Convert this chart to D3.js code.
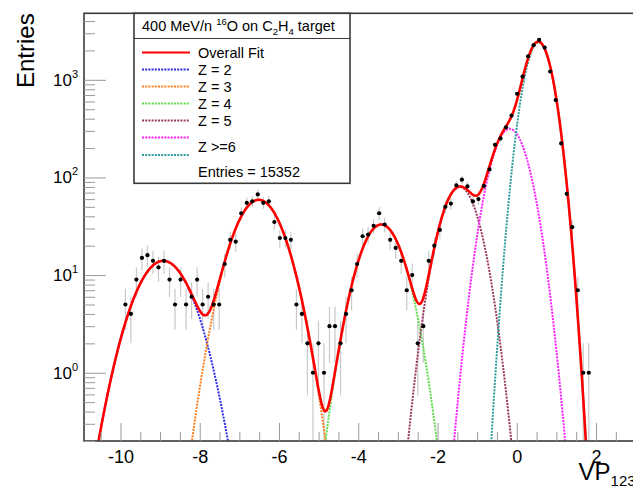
<!DOCTYPE html>
<html><head><meta charset="utf-8">
<script src="https://cdn.jsdelivr.net/npm/d3@7"></script>
<style>
body{margin:0;background:#fff}
svg{display:block}
text{font-family:"Liberation Sans",Arial,sans-serif;fill:#000}
</style>
</head><body>
<svg id="c" width="633" height="489"></svg>
<script>
// ---- data ----
const binCenters = [-9.876,-9.737,-9.598,-9.458,-9.319,-9.180,-9.040,-8.901,-8.762,-8.623,
 -8.484,-8.344,-8.205,-8.066,-7.927,-7.788,-7.648,-7.509,-7.370,-7.231,
 -7.092,-6.952,-6.813,-6.674,-6.535,-6.396,-6.256,-6.117,-5.978,-5.839,
 -5.700,-5.560,-5.421,-5.282,-5.143,-5.004,-4.864,-4.725,-4.586,-4.447,
 -4.308,-4.168,-4.029,-3.890,-3.751,-3.612,-3.472,-3.333,-3.194,-3.055,
 -2.916,-2.776,-2.637,-2.498,-2.359,-2.220,-2.080,-1.941,-1.802,-1.663,
 -1.524,-1.384,-1.245,-1.106,-0.967,-0.828,-0.688,-0.549,-0.410,-0.271,
 -0.132,0.008,0.147,0.286,0.425,0.564,0.704,0.843,0.982,1.121,
 1.260,1.400,1.539,1.678,1.817];
const counts = [5,4,9,15,16,14,12,14,9,5,
 9,5,6,9,5,6,5,5,13,23,
 22,43,55,57,67,55,57,35,24,24,
 23,5,4,2,1,2,1,3,3,2,
 4,7,13,25,26,32,43,33,23,19,
 14,7,10,2,3,14,20,29,50,54,
 83,95,81,57,60,82,121,216,251,326,
 430,720,1081,1742,2265,2563,2137,1217,620,223,
 68,31,7,1,1];
// fitted Gaussian components (amplitude, mean, sigma)
const compNames  = ["Z = 2","Z = 3","Z = 4","Z = 5","Z >=6 (a)","Z >=6 (b)"];
const compAmps   = [14, 59, 33, 80, 315, 2420];
const compMeans  = [-8.92, -6.51, -3.42, -1.44, -0.18, 0.55];
const compSigmas = [0.56, 0.50, 0.44, 0.376, 0.365, 0.275];
const compColors = ["#2b2bf0","#ff7f1e","#5fdc4a","#9a3a5e","#ff1eff","#2f9c9c"];
const xTicks = [-10,-8,-6,-4,-2,0,2];
const yTicks = [1,10,100,1000];
const xDomain = [-10.92, 3.0];
const yDomain = [0.2, 4800];
const titleText = "400 MeV/n";
const totalEntries = 15352;

// ---- layout ----
const svg = d3.select("#c");
const L = 84, T = 13.3, B = 441;
const pxPerUnit = 39.63;
const R = L + (xDomain[1]-xDomain[0])*pxPerUnit;
const x = d3.scaleLinear().domain(xDomain).range([L, R]);
const y = d3.scaleLog().domain(yDomain).range([B, T]);

svg.append("defs").append("clipPath").attr("id","clip")
  .append("rect").attr("x",L).attr("y",T).attr("width",R-L).attr("height",B-T);

const plot = svg.append("g").attr("clip-path","url(#clip)");

// error bars
plot.append("g").selectAll("line").data(counts).join("line")
  .attr("x1",(d,i)=>x(binCenters[i])).attr("x2",(d,i)=>x(binCenters[i]))
  .attr("y1",d=>{const lo=d-Math.sqrt(d); return lo>0? y(Math.max(lo,0.01)) : B+5;})
  .attr("y2",d=>y(d+Math.sqrt(d)))
  .attr("stroke","#c9c9c9").attr("stroke-width",1.2);

// component curves
function gauss(a,m,s,v){return a*Math.exp(-(v-m)*(v-m)/(2*s*s));}
const xs = d3.range(xDomain[0], xDomain[1]+0.0001, 0.01);
const line = d3.line().x(d=>x(d[0])).y(d=>y(d[1])).defined(d=>d[1]>0.02);
compAmps.forEach((a,k)=>{
  const pts = xs.map(v=>[v, gauss(a,compMeans[k],compSigmas[k],v)]);
  plot.append("path").attr("d",line(pts)).attr("fill","none")
    .attr("stroke",compColors[k]).attr("stroke-width",2).attr("stroke-dasharray","2,1.2");
});
// overall fit
const totPts = xs.map(v=>[v, d3.sum(compAmps,(a,k)=>gauss(a,compMeans[k],compSigmas[k],v))]);
plot.append("path").attr("d",line(totPts)).attr("fill","none")
  .attr("stroke","#ff0000").attr("stroke-width",2.6);

// data points
plot.append("g").selectAll("circle").data(counts).join("circle")
  .attr("cx",(d,i)=>x(binCenters[i])).attr("cy",d=>y(d)).attr("r",2.1).attr("fill","#000");

// frame
svg.append("rect").attr("x",L).attr("y",T).attr("width",R-L).attr("height",B-T)
  .attr("fill","none").attr("stroke","#3a3a3a").attr("stroke-width",1.6);

// x axis ticks
const xMinor = d3.range(-10.5, 3.01, 0.5).filter(v=>!xTicks.includes(v));
const gx = svg.append("g").attr("transform",`translate(0,${B})`);
gx.call(d3.axisBottom(x).tickValues(xMinor).tickSizeInner(-9).tickSizeOuter(0).tickFormat(""));
gx.call(g=>g.select(".domain").remove());
const gx2 = svg.append("g").attr("transform",`translate(0,${B})`);
gx2.call(d3.axisBottom(x).tickValues(xTicks).tickSizeInner(-18).tickSizeOuter(0).tickPadding(9).tickFormat(d=>String(d)));
gx2.call(g=>g.select(".domain").remove());
svg.selectAll(".tick line").attr("stroke","#9a9a9a");
gx2.selectAll("text").attr("font-size",18).attr("font-family","Liberation Sans, Arial, sans-serif").attr("fill","#000");

// y axis ticks
const yMinor = [];
[0.1,1,10,100,1000].forEach(dec=>{for(let m=2;m<=9;m++){const v=m*dec; if(v>=yDomain[0]&&v<=yDomain[1]) yMinor.push(v);}});
const gy = svg.append("g").attr("transform",`translate(${L},0)`);
gy.call(d3.axisLeft(y).tickValues(yMinor).tickSizeInner(-11).tickSizeOuter(0).tickFormat(""));
gy.call(g=>g.select(".domain").remove());
const gy2 = svg.append("g").attr("transform",`translate(${L},0)`);
gy2.call(d3.axisLeft(y).tickValues(yTicks).tickSizeInner(-22).tickSizeOuter(0).tickFormat(""));
gy2.call(g=>g.select(".domain").remove());
svg.selectAll(".tick line").attr("stroke","#9a9a9a");
// y labels 10^n
yTicks.forEach(v=>{
  const t = svg.append("text").attr("x",L-6).attr("y",y(v)+6).attr("text-anchor","end").attr("font-size",17);
  t.append("tspan").text("10");
  t.append("tspan").attr("font-size",11).attr("dy",-8).text(String(Math.round(Math.log10(v))));
});

// axis titles
svg.append("text").attr("transform",`translate(34,${T}) rotate(-90)`).attr("text-anchor","end")
  .attr("font-size",24).text("Entries");
const xt = svg.append("text").attr("x",R).attr("y",480).attr("text-anchor","end").attr("font-size",24);
xt.append("tspan").text("VP");
xt.append("tspan").attr("font-size",15).attr("dy",6).text("123");

// legend
const lg = svg.append("g");
const LX=134, LY=13.3, LW=216, LH=170;
lg.append("rect").attr("x",LX).attr("y",LY).attr("width",LW).attr("height",LH)
  .attr("fill","#fff").attr("stroke","#3a3a3a").attr("stroke-width",1.6);
lg.append("line").attr("x1",LX).attr("x2",LX+LW).attr("y1",38.5).attr("y2",38.5)
  .attr("stroke","#3a3a3a").attr("stroke-width",1.2);
const tt = lg.append("text").attr("x",142).attr("y",31).attr("font-size",14.5);
tt.append("tspan").text(titleText+" ");
tt.append("tspan").attr("font-size",9.5).attr("dy",-6).text("16");
tt.append("tspan").attr("dy",6).text("O on C");
tt.append("tspan").attr("font-size",9.5).attr("dy",4).text("2");
tt.append("tspan").attr("dy",-4).text("H");
tt.append("tspan").attr("font-size",9.5).attr("dy",4).text("4");
tt.append("tspan").attr("dy",-4).text(" target");

const rows = [
  {label:"Overall Fit", color:"#ff0000", dash:null, ly:52.5, ty:52.5},
  {label:compNames[0], color:compColors[0], dash:"2,1.2", ly:69.5, ty:69.5},
  {label:compNames[1], color:compColors[1], dash:"2,1.2", ly:86.5, ty:86.5},
  {label:compNames[2], color:compColors[2], dash:"2,1.2", ly:103.5, ty:103.5},
  {label:compNames[3], color:compColors[3], dash:"2,1.2", ly:120.5, ty:120.5},
  {label:null, color:compColors[4], dash:"2,1.2", ly:137.5},
  {label:"Z >=6", color:compColors[5], dash:"2,1.2", ly:155, ty:146.5},
];
rows.forEach(r=>{
  const ln = lg.append("line").attr("x1",142).attr("x2",190).attr("y1",r.ly).attr("y2",r.ly)
    .attr("stroke",r.color).attr("stroke-width",r.dash?2:2.2);
  if(r.dash) ln.attr("stroke-dasharray",r.dash);
  if(r.label) lg.append("text").attr("x",198).attr("y",r.ty+5).attr("font-size",14.5).text(r.label);
});
lg.append("text").attr("x",198).attr("y",172+5).attr("font-size",14.5).text("Entries = "+totalEntries);
</script>
</body></html>
